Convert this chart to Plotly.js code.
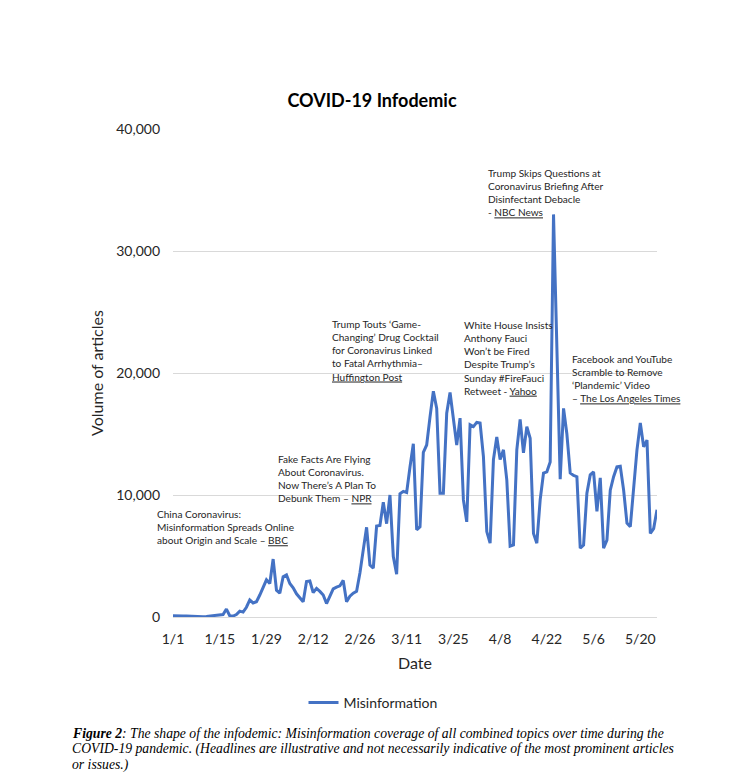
<!DOCTYPE html>
<html>
<head>
<meta charset="utf-8">
<script src="https://cdn.plot.ly/plotly-3.0.1.min.js"></script>
<style>html,body{margin:0;padding:0;background:#fff;}#chart{width:744px;height:772px;}</style>
</head>
<body>
<div id="chart"></div>
<script>
// ---- data ----
const startDate = '2020-01-01';
const seriesName = 'Misinformation';
const misinformation = [
  100, 80, 60, 80, 90, 70, 40, 30, 40, 30,
  50, 70, 80, 100, 120, 200, 650, 100, 80, 200,
  480, 400, 800, 1400, 1150, 1250, 1800, 2400, 3050, 2750,
  4750, 2200, 1950, 3300, 3450, 2750, 2400, 1900, 1600, 1250,
  2900, 2950, 2000, 2350, 2100, 1800, 1100, 1700, 2300, 2450,
  2550, 3000, 1250, 1700, 1950, 2100, 3600, 5500, 7350, 4250,
  4000, 7450, 7500, 9400, 7650, 10000, 4950, 3500, 10100, 10300,
  10200, 12300, 14200, 7150, 7400, 13500, 14100, 16400, 18500, 17100,
  10150, 10150, 16700, 18400, 16150, 14100, 16300, 9600, 7800, 15750,
  15600, 15950, 15900, 13150, 7000, 6050, 12900, 14750, 12900, 13700,
  11250, 5800, 5900, 13700, 16200, 13450, 15600, 14650, 6850, 6050,
  9600, 11800, 11900, 12700, 33000, 22000, 11300, 17100, 15000, 11800,
  11600, 11500, 5650, 5900, 10150, 11650, 11900, 8650, 11400, 5650,
  6300, 10400, 11500, 12300, 12350, 10400, 7700, 7400, 10400, 13700,
  15900, 13950, 14500, 6850, 7250, 8800
];
const tickDates = ['2020-01-01','2020-01-15','2020-01-29','2020-02-12','2020-02-26','2020-03-11','2020-03-25','2020-04-08','2020-04-22','2020-05-06','2020-05-20'];
const tickLabels = ['1/1','1/15','1/29','2/12','2/26','3/11','3/25','4/8','4/22','5/6','5/20'];
const yTickVals = [0, 10000, 20000, 30000, 40000];

const headlines = [
  'China Coronavirus:<br>Misinformation Spreads Online<br>about Origin and Scale – <u>BBC</u>',
  'Fake Facts Are Flying<br>About Coronavirus.<br>Now There’s A Plan To<br>Debunk Them – <u>NPR</u>',
  'Trump Touts ‘Game-<br>Changing’ Drug Cocktail<br>for Coronavirus Linked<br>to Fatal Arrhythmia–<br><u>Huffington Post</u>',
  'White House Insists<br>Anthony Fauci<br>Won’t be Fired<br>Despite Trump’s<br>Sunday #FireFauci<br>Retweet - <u>Yahoo</u>',
  'Trump Skips Questions at<br>Coronavirus Briefing After<br>Disinfectant Debacle<br>- <u>NBC News</u>',
  'Facebook and YouTube<br>Scramble to Remove<br>‘Plandemic’ Video<br>– <u>The Los Angeles Times</u>'
];
const captionLines = [
  '<b>Figure 2</b>: The shape of the infodemic: Misinformation coverage of all combined topics over time during the',
  'COVID-19 pandemic. (Headlines are illustrative and not necessarily indicative of the most prominent articles',
  'or issues.)'
];

// ---- build ----
const dates = misinformation.map((_, i) => {
  const d = new Date(startDate + 'T00:00:00Z');
  d.setUTCDate(d.getUTCDate() + i);
  return d.toISOString().slice(0, 10);
});

// layout geometry (pixels)
const L = 173, R = 657, T = 129, B = 617;
const W = 744, H = 772;
const px = x => (x - L) / (R - L);
const py = y => (B - y) / (B - T);

const headlinePos = [[156, 507], [277, 452], [331, 317], [463, 318], [487, 166], [571, 352]];
const captionY = [733, 749, 765];

const FONT = 'Lato, "Open Sans", sans-serif';

const annotations = headlines.map((t, i) => ({
  text: t, xref: 'paper', yref: 'paper',
  x: px(headlinePos[i][0]), y: py(headlinePos[i][1]),
  xanchor: 'left', yanchor: 'top', align: 'left', showarrow: false,
  borderpad: 0,
  font: {family: FONT, size: 10.1, color: '#262626'}
}));
captionLines.forEach((t, i) => {
  annotations.push({
    text: '<i>' + t + '</i>', xref: 'paper', yref: 'paper',
    x: px(71), y: py(captionY[i]), xanchor: 'left', yanchor: 'middle', align: 'left',
    showarrow: false, borderpad: 0,
    font: {family: '"Liberation Serif", "Times New Roman", serif', size: 13.7, color: '#000'}
  });
});

const trace = {
  x: dates, y: misinformation, type: 'scatter', mode: 'lines', name: seriesName,
  line: {color: '#4472C4', width: 3}
};

const layout = {
  width: W, height: H,
  margin: {l: L, r: W - R, t: T, b: H - B, pad: 0},
  paper_bgcolor: '#fff', plot_bgcolor: '#fff',
  font: {family: FONT, color: '#404040'},
  title: {
    text: '<b>COVID-19 Infodemic</b>', xref: 'container', yref: 'container',
    x: 372 / W, y: 1 - 101 / H, xanchor: 'center', yanchor: 'middle',
    font: {family: FONT, size: 18, color: '#000'}
  },
  xaxis: {
    type: 'date', range: [dates[0], dates[dates.length - 1]],
    tickvals: tickDates, ticktext: tickLabels, showgrid: false, zeroline: false,
    showline: false, ticks: '', ticklabelstandoff: 12,
    tickfont: {family: FONT, size: 14, color: '#262626'},
    title: {text: 'Date', font: {family: FONT, size: 16, color: '#262626'}, standoff: 11}
  },
  yaxis: {
    range: [0, 40000], tickvals: yTickVals, tickformat: ',d',
    showgrid: true, gridcolor: '#d9d9d9', gridwidth: 1,
    zeroline: true, zerolinecolor: '#d9d9d9', zerolinewidth: 1,
    showline: false, ticks: '', ticklabelstandoff: 12,
    tickfont: {family: FONT, size: 14, color: '#262626'},
    title: {text: 'Volume of articles', font: {family: FONT, size: 16, color: '#262626'}, standoff: 8}
  },
  showlegend: true,
  legend: {
    orientation: 'h', xref: 'paper', yref: 'paper',
    x: px(373), y: py(703), xanchor: 'center', yanchor: 'middle',
    font: {family: FONT, size: 14, color: '#262626'}, bgcolor: 'rgba(0,0,0,0)'
  },
  annotations: annotations
};

Plotly.newPlot('chart', [trace], layout, {staticPlot: true, displayModeBar: false});
</script>
</body>
</html>
